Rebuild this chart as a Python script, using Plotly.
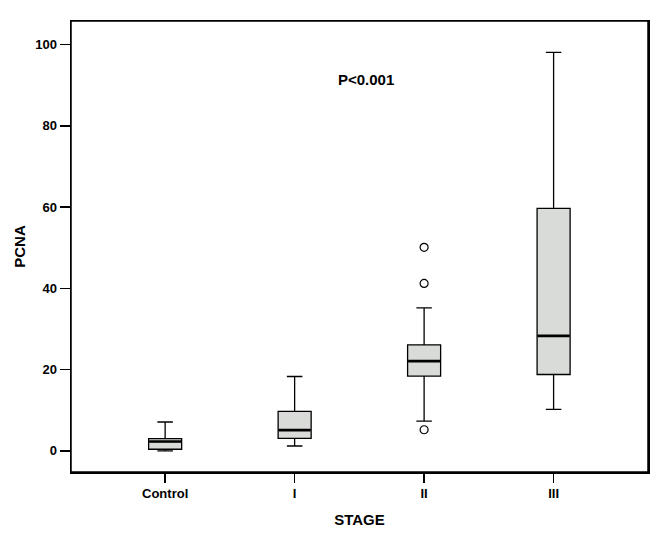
import plotly.graph_objects as go

categories = ["Control", "I", "II", "III"]
lower_whisker = [0.0, 1.2, 7.3, 10.2]
q1_values = [0.4, 3.1, 18.4, 18.8]
median_values = [2.3, 5.1, 22.1, 28.3]
q3_values = [3.0, 9.7, 26.1, 59.7]
upper_whisker = [7.1, 18.3, 35.2, 98.1]

outlier_stage = ["II", "II", "II"]
outlier_values = [50.1, 41.2, 5.2]

y_ticks = [0, 20, 40, 60, 80, 100]
annotation_text = "P<0.001"

FONT = "Liberation Sans, Arial, sans-serif"

fig = go.Figure()
fig.add_trace(go.Box(
    x=categories,
    q1=q1_values,
    median=median_values,
    q3=q3_values,
    lowerfence=lower_whisker,
    upperfence=upper_whisker,
    fillcolor="#d9dbd9",
    line=dict(color="black", width=1.3),
    width=0.255,
    whiskerwidth=0.47,
    boxpoints=False,
    showlegend=False,
    hoverinfo="skip",
))
# thicker median line, drawn as a second box with zero-height body at the median
fig.add_trace(go.Box(
    x=categories,
    q1=median_values,
    median=median_values,
    q3=median_values,
    lowerfence=median_values,
    upperfence=median_values,
    fillcolor="rgba(0,0,0,0)",
    line=dict(color="black", width=2.6),
    width=0.245,
    whiskerwidth=0,
    boxpoints=False,
    showlegend=False,
    hoverinfo="skip",
))
fig.add_trace(go.Scatter(
    x=outlier_stage,
    y=outlier_values,
    mode="markers",
    marker=dict(symbol="circle-open", size=8, color="black", line=dict(width=1.2)),
    showlegend=False,
    hoverinfo="skip",
))

fig.add_annotation(
    x=1.55, y=91.5, xref="x", yref="y",
    text="<b>" + annotation_text + "</b>",
    showarrow=False,
    font=dict(family=FONT, size=15, color="black"),
)

# frame around the plotting area
fig.add_shape(
    type="rect", xref="paper", yref="paper", x0=0, x1=1, y0=0, y1=1,
    line=dict(color="black", width=1.5), fillcolor="rgba(0,0,0,0)", layer="above",
)

fig.update_layout(
    width=663, height=537,
    margin=dict(l=71, r=15, t=21, b=65),
    paper_bgcolor="white",
    plot_bgcolor="white",
    font=dict(family=FONT, color="black"),
    boxmode="overlay",
)
fig.update_xaxes(
    type="category",
    categoryorder="array", categoryarray=categories,
    range=[-0.727, 3.729],
    showline=True, linecolor="black", linewidth=1.5, mirror=True,
    ticks="outside", ticklen=9, tickwidth=1.5, tickcolor="black",
    tickfont=dict(family=FONT, size=13, color="black", weight="bold"),
    showgrid=False, zeroline=False,
    title=dict(text="<b>STAGE</b>", font=dict(family=FONT, size=15, color="black"), standoff=14),
)
fig.update_yaxes(
    range=[-5.2, 105.8],
    tickvals=y_ticks,
    showline=True, linecolor="black", linewidth=1.5, mirror=True,
    ticks="outside", ticklen=10, tickwidth=1.5, tickcolor="black",
    tickfont=dict(family=FONT, size=13, color="black", weight="bold"),
    ticklabelstandoff=0,
    showgrid=False, zeroline=False,
    title=dict(text="<b>PCNA</b>", font=dict(family=FONT, size=15, color="black"), standoff=6),
)

fig.write_html("out.html", config={"displayModeBar": False, "staticPlot": True})

with open("out.html", "r", encoding="utf-8") as f:
    html = f.read()
html = html.replace("<head>", "<head><style>html,body{margin:0;padding:0;overflow:hidden}</style>", 1)
with open("out.html", "w", encoding="utf-8") as f:
    f.write(html)
